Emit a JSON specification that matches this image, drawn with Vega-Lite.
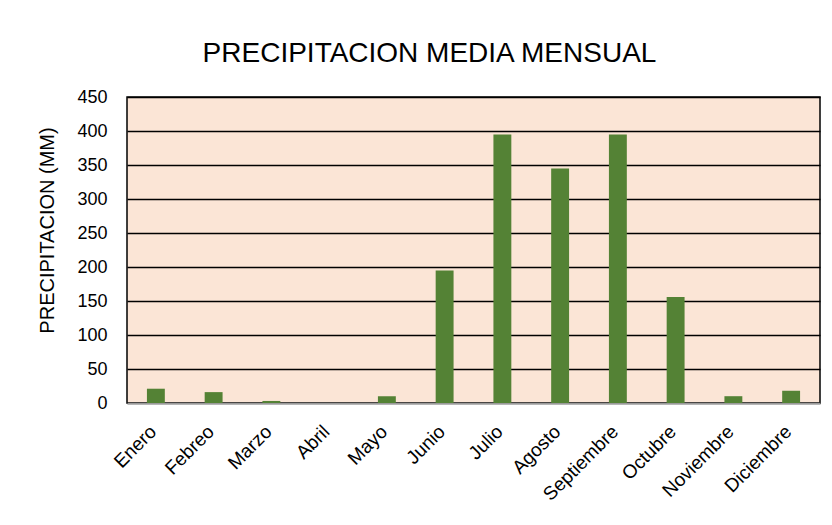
{
  "$schema": "https://vega.github.io/schema/vega-lite/v6.json",
  "width": 693,
  "height": 306,
  "autosize": {"type": "none"},
  "padding": {"left": 127, "top": 97, "right": 12, "bottom": 122},
  "background": "white",
  "title": {
    "text": "PRECIPITACION MEDIA MENSUAL",
    "anchor": "middle",
    "dx": -44,
    "dy": 42,
    "offset": 34,
    "baseline": "bottom",
    "font": "Liberation Sans",
    "fontSize": 28,
    "fontWeight": "normal",
    "color": "#000000"
  },
  "data": {
    "values": [
      {"mes": "Enero", "precip": 21},
      {"mes": "Febreo", "precip": 16},
      {"mes": "Marzo", "precip": 3},
      {"mes": "Abril", "precip": 0},
      {"mes": "Mayo", "precip": 10},
      {"mes": "Junio", "precip": 195},
      {"mes": "Julio", "precip": 395},
      {"mes": "Agosto", "precip": 345},
      {"mes": "Septiembre", "precip": 395},
      {"mes": "Octubre", "precip": 156},
      {"mes": "Noviembre", "precip": 10},
      {"mes": "Diciembre", "precip": 18}
    ]
  },
  "mark": {"type": "bar", "color": "#548235"},
  "encoding": {
    "x": {
      "field": "mes",
      "type": "nominal",
      "sort": null,
      "title": null,
      "scale": {"paddingInner": 0.69, "paddingOuter": 0.345},
      "axis": {
        "labelAngle": -45,
        "labelFont": "Liberation Sans",
        "labelFontSize": 19,
        "labelColor": "#000000",
        "labelPadding": 19,
        "labelOffset": -9,
        "ticks": false,
        "domainColor": "#9a9a9a",
        "domainWidth": 1.5
      }
    },
    "y": {
      "field": "precip",
      "type": "quantitative",
      "title": "PRECIPITACION (MM)",
      "scale": {"domain": [0, 450], "nice": false},
      "axis": {
        "values": [0, 50, 100, 150, 200, 250, 300, 350, 400, 450],
        "labelFont": "Liberation Sans",
        "labelFontSize": 18,
        "labelColor": "#000000",
        "labelPadding": 20,
        "ticks": false,
        "domain": false,
        "grid": true,
        "gridColor": "#000000",
        "gridWidth": 1.5,
        "titleFont": "Liberation Sans",
        "titleFontSize": 20,
        "titleFontWeight": "normal",
        "titleColor": "#000000",
        "titleY": 133,
        "titleX": -70
      }
    }
  },
  "config": {
    "view": {"fill": "#FBE5D6", "stroke": "#000000", "strokeWidth": 1.5}
  }
}
